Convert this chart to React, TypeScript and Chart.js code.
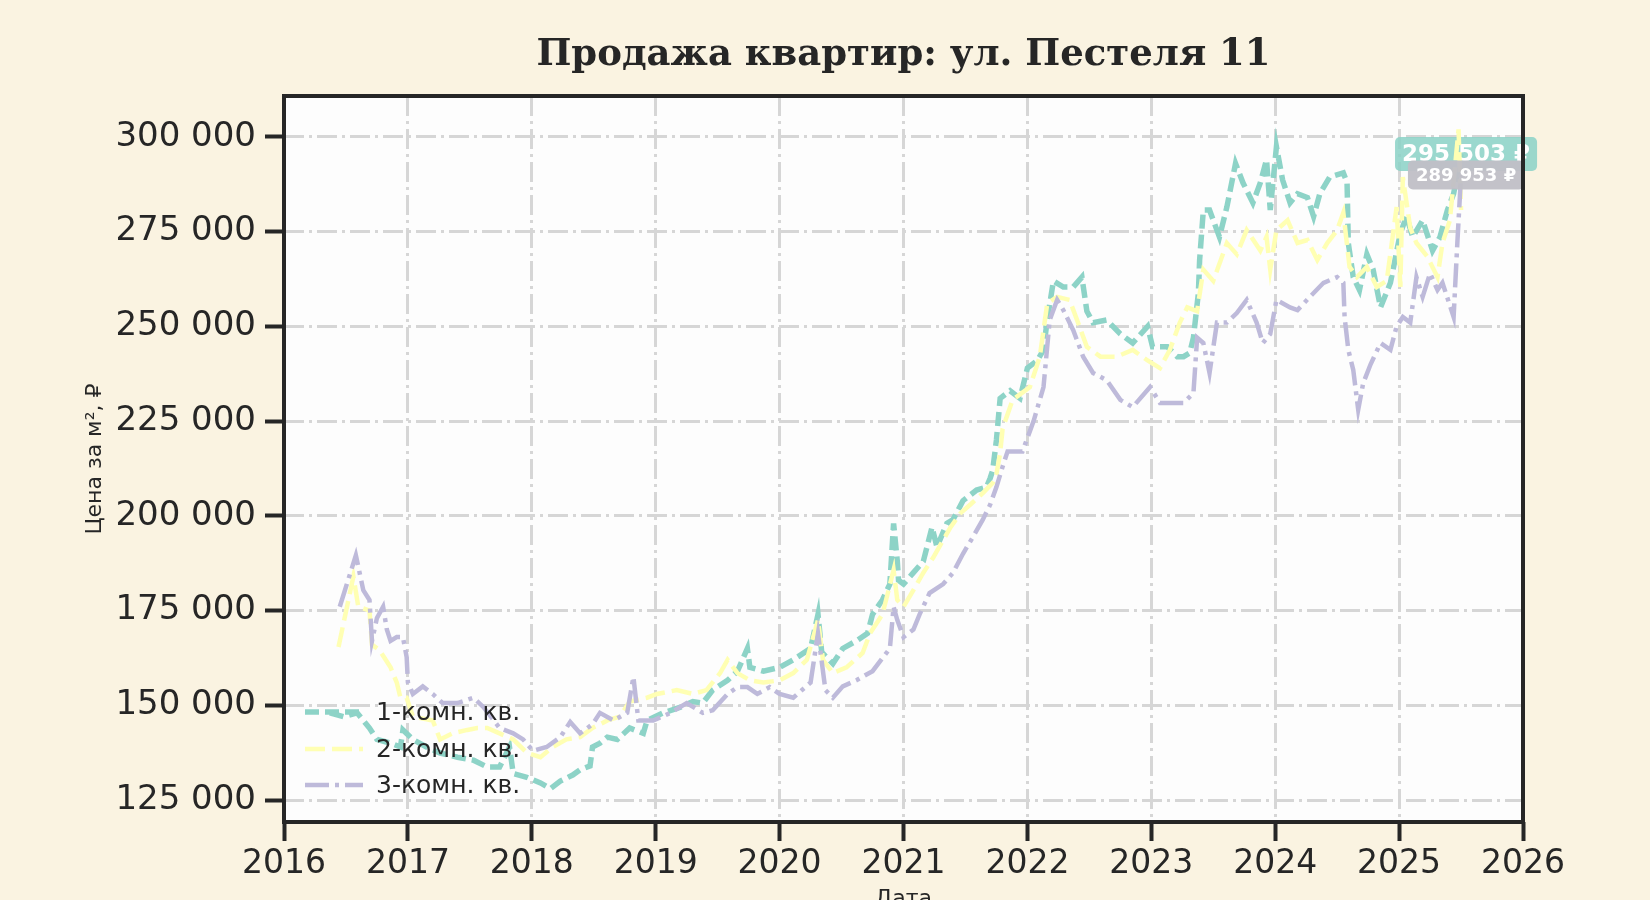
import React, { useEffect, useRef } from "react";
import { Chart, registerables } from "chart.js";

Chart.register(...registerables);

const TITLE = "Продажа квартир: ул. Пестеля 11";
const Y_LABEL = "Цена за м², ₽";
const X_LABEL = "Дата";

const X_TICKS = [2016, 2017, 2018, 2019, 2020, 2021, 2022, 2023, 2024, 2025, 2026];
const Y_TICKS = [125000, 150000, 175000, 200000, 225000, 250000, 275000, 300000];

const SERIES_NAMES = ["1-комн. кв.", "2-комн. кв.", "3-комн. кв."];
const SERIES_COLORS = ["#8dd3c7", "#ffffb3", "#bebada"];

const S1_YEARS = [
  2016.37, 2016.48, 2016.59, 2016.69, 2016.75, 2016.86, 2016.94, 2016.96, 2017.04, 2017.15,
  2017.26, 2017.40, 2017.53, 2017.64, 2017.74, 2017.82, 2017.85, 2017.96, 2018.07, 2018.15,
  2018.23, 2018.33, 2018.39, 2018.47, 2018.49, 2018.55, 2018.61, 2018.69, 2018.79, 2018.90,
  2018.93, 2019.06, 2019.20, 2019.30, 2019.38, 2019.46, 2019.58, 2019.66, 2019.74, 2019.76,
  2019.87, 2020.00, 2020.11, 2020.25, 2020.31, 2020.34, 2020.43, 2020.51, 2020.62, 2020.71,
  2020.75, 2020.83, 2020.89, 2020.92, 2020.95, 2020.96, 2021.00, 2021.08, 2021.16, 2021.23,
  2021.27, 2021.35, 2021.40, 2021.48, 2021.59, 2021.67, 2021.70, 2021.72, 2021.75, 2021.78,
  2021.86, 2021.94, 2022.00, 2022.08, 2022.13, 2022.16, 2022.21, 2022.29, 2022.37, 2022.44,
  2022.48, 2022.53, 2022.64, 2022.75, 2022.85, 2022.97, 2023.01, 2023.13, 2023.21, 2023.26,
  2023.31, 2023.34, 2023.38, 2023.39, 2023.42, 2023.47, 2023.55, 2023.61, 2023.68, 2023.74,
  2023.82, 2023.88, 2023.93, 2023.96, 2024.01, 2024.06, 2024.12, 2024.18, 2024.26, 2024.31,
  2024.36, 2024.44, 2024.55, 2024.58, 2024.59, 2024.63, 2024.68, 2024.74, 2024.79, 2024.85,
  2024.93, 2025.01, 2025.06, 2025.11, 2025.19, 2025.27, 2025.33, 2025.39, 2025.44, 2025.50,
];
const S1_VALUES = [
  148000, 147000, 148000, 144000, 141000, 140000, 139000, 143500, 141000, 139000,
  137400, 136300, 135500, 133700, 133700, 139000, 132000, 131000, 129500, 128000,
  130000, 131600, 133000, 134000, 139000, 140000, 141600, 141000, 144000, 142600,
  146000, 148000, 149500, 151000, 150600, 154000, 156600, 159000, 165000, 160000,
  159000, 160000, 162000, 165000, 174000, 164000, 161000, 165000, 167000, 169000,
  174000, 177800, 182000, 198000, 188000, 183000, 182000, 185000, 188000, 197000,
  191800, 198000, 199000, 204000, 206800, 207600, 210000, 212000, 220000, 231000,
  233000, 231000, 239000, 241000, 243800, 251700, 262000, 260400, 260400, 263000,
  254000, 251000, 251700, 248000, 245600, 250000, 244600, 244600, 242000, 242000,
  243000, 247000, 258800, 267500, 280700, 280700, 273600, 281500, 293000, 287900,
  282600, 287900, 294000, 280700, 297400, 288600, 282600, 285000, 284000, 279000,
  285000, 289400, 290500, 288000, 272000, 263000, 259600, 269000, 265000, 255000,
  261500, 274600, 279000, 273600, 278000, 270000, 273600, 280700, 285000, 295503,
];

const S2_YEARS = [
  2016.44, 2016.56, 2016.60, 2016.69, 2016.71, 2016.77, 2016.86, 2016.91, 2016.94, 2016.99,
  2017.04, 2017.20, 2017.26, 2017.36, 2017.48, 2017.56, 2017.64, 2017.74, 2017.85, 2017.96,
  2018.07, 2018.17, 2018.28, 2018.39, 2018.49, 2018.61, 2018.71, 2018.79, 2018.93, 2019.01,
  2019.17, 2019.30, 2019.41, 2019.52, 2019.58, 2019.66, 2019.76, 2019.87, 2020.00, 2020.11,
  2020.22, 2020.31, 2020.35, 2020.43, 2020.54, 2020.67, 2020.73, 2020.83, 2020.92, 2020.95,
  2021.00, 2021.08, 2021.16, 2021.24, 2021.32, 2021.38, 2021.46, 2021.54, 2021.64, 2021.72,
  2021.75, 2021.78, 2021.80, 2021.88, 2022.02, 2022.10, 2022.16, 2022.24, 2022.34, 2022.42,
  2022.48, 2022.59, 2022.72, 2022.85, 2022.97, 2023.07, 2023.15, 2023.23, 2023.29, 2023.37,
  2023.42, 2023.50, 2023.61, 2023.69, 2023.77, 2023.88, 2023.93, 2023.96, 2024.01, 2024.10,
  2024.18, 2024.26, 2024.34, 2024.42, 2024.50, 2024.55, 2024.60, 2024.66, 2024.74, 2024.82,
  2024.90, 2024.98, 2025.01, 2025.03, 2025.09, 2025.14, 2025.23, 2025.31, 2025.35, 2025.41,
  2025.48, 2025.50,
];
const S2_VALUES = [
  165400, 184000, 176000, 175000, 166000, 164600, 160000, 156000, 152000, 152000,
  147000, 146000, 141000, 142600, 143500, 144000, 144000, 142600, 141000, 137500,
  136300, 139000, 141000, 141600, 144000, 146000, 147000, 151000, 152000, 153000,
  154000, 153000, 154000, 158500, 162000, 158500, 156600, 156000, 156600, 158500,
  162000, 172500, 162000, 158500, 160000, 163800, 169000, 174000, 185700, 177800,
  176000, 180400, 185000, 189000, 193600, 197000, 200700, 203000, 206000, 208700,
  211000, 216600, 223000, 230600, 234000, 242000, 256000, 257800, 257000, 250000,
  244600, 242000, 242000, 243800, 241000, 239000, 243800, 251000, 255000, 254000,
  265000, 262000, 272000, 269000, 275400, 270000, 273600, 265000, 275400, 278000,
  272000, 272800, 267500, 272000, 275400, 280000, 265700, 263000, 265700, 260400,
  262000, 281500, 260400, 289400, 276000, 272000, 268300, 263000, 272000, 278000,
  302000, 280700,
];

const S3_YEARS = [
  2016.45, 2016.58, 2016.64, 2016.69, 2016.71, 2016.75, 2016.80, 2016.83, 2016.86, 2016.91,
  2016.96, 2016.99, 2017.00, 2017.04, 2017.12, 2017.20, 2017.28, 2017.40, 2017.53, 2017.61,
  2017.74, 2017.85, 2017.93, 2018.01, 2018.12, 2018.23, 2018.31, 2018.39, 2018.49, 2018.55,
  2018.66, 2018.77, 2018.82, 2018.86, 2018.98, 2019.12, 2019.25, 2019.38, 2019.46, 2019.58,
  2019.66, 2019.74, 2019.82, 2019.92, 2020.00, 2020.11, 2020.25, 2020.31, 2020.37, 2020.43,
  2020.51, 2020.62, 2020.75, 2020.89, 2020.92, 2020.95, 2021.00, 2021.08, 2021.13, 2021.21,
  2021.32, 2021.40, 2021.48, 2021.56, 2021.64, 2021.70, 2021.75, 2021.80, 2021.84, 2021.88,
  2021.96, 2022.05, 2022.13, 2022.18, 2022.24, 2022.29, 2022.37, 2022.45, 2022.53, 2022.64,
  2022.75, 2022.85, 2022.99, 2023.07, 2023.15, 2023.26, 2023.34, 2023.37, 2023.42, 2023.47,
  2023.53, 2023.61, 2023.69, 2023.77, 2023.85, 2023.90, 2023.96, 2024.01, 2024.12, 2024.18,
  2024.28, 2024.39, 2024.50, 2024.55, 2024.56, 2024.59, 2024.63, 2024.67, 2024.71, 2024.77,
  2024.85, 2024.93, 2024.98, 2025.03, 2025.09, 2025.14, 2025.19, 2025.25, 2025.31, 2025.35,
  2025.44, 2025.47, 2025.50,
];
const S3_VALUES = [
  176000, 189600, 180400, 177800, 167000, 173000, 176000, 170000, 167000, 168000,
  168000, 162700, 156000, 153000, 155000, 153000, 150600, 150600, 152000, 149500,
  144000, 142600, 141000, 138000, 139000, 141600, 145600, 142600, 145000, 148000,
  146000, 148000, 157500, 146000, 146000, 148000, 150600, 148000, 148700, 153000,
  154800, 154800, 153000, 154800, 153000, 152000, 156000, 169000, 154000, 152000,
  155000, 156600, 159000, 165000, 176000, 172500, 168000, 170000, 174000, 179600,
  182000, 185000, 190000, 194400, 199000, 203000, 207600, 213000, 217000, 217000,
  217000, 225000, 234000, 251700, 257000, 254300, 249000, 242000, 237700, 235800,
  230600, 228700, 234000, 229800, 229800, 229800, 232400, 247000, 245600, 237700,
  251000, 251000, 253500, 257000, 251000, 245600, 248000, 257000, 255000, 254300,
  257800, 261500, 263000, 261500, 252500, 243800, 238500, 228000, 235000, 240000,
  245600, 243800, 250000, 252500, 251000, 263000, 257800, 264000, 259600, 261500,
  252500, 272000, 289953,
];

const PAGE_BG = "#faf3e1";
const PLOT_BG = "#fdfdfd";
const INK = "#262626";
const GRID = "#d6d6d6";

function fmtSpace(v: number): string {
  return Math.round(v)
    .toString()
    .replace(/\B(?=(\d{3})+(?!\d))/g, " ");
}

const LABEL_BOXES = [
  { dataset: 0, fill: "rgba(141,211,199,0.88)", font: 23, height: 34, padX: 7 },
  { dataset: 2, fill: "rgba(192,191,198,0.95)", font: 18, height: 29, padX: 8 },
];

const DASHES = [
  [14, 6],
  [20, 7],
  [24, 6, 4, 6],
];
const WIDTHS = [5.5, 4.5, 4.5];

export default function App() {
  const canvasRef = useRef<HTMLCanvasElement | null>(null);

  useEffect(() => {
    const canvas = canvasRef.current;
    if (!canvas) return;

    const seriesYears = [S1_YEARS, S2_YEARS, S3_YEARS];
    const seriesValues = [S1_VALUES, S2_VALUES, S3_VALUES];

    const datasets = SERIES_NAMES.map((name, i) => ({
      label: name,
      data: seriesYears[i].map((x, j) => ({ x, y: seriesValues[i][j] })),
      borderColor: SERIES_COLORS[i],
      backgroundColor: SERIES_COLORS[i],
      borderWidth: WIDTHS[i],
      borderDash: DASHES[i],
      borderCapStyle: "butt" as const,
      borderJoinStyle: "miter" as const,
      pointRadius: 0,
      pointHoverRadius: 0,
      tension: 0,
      fill: false,
      order: 3 - i,
    }));

    const decor = {
      id: "decor",
      beforeDraw(chart: any) {
        const { ctx, chartArea: a } = chart;
        ctx.save();
        ctx.fillStyle = PAGE_BG;
        ctx.fillRect(0, 0, chart.width, chart.height);
        ctx.fillStyle = PLOT_BG;
        ctx.fillRect(a.left, a.top, a.right - a.left, a.bottom - a.top);
        ctx.restore();
      },
      afterDatasetDraw(chart: any, args: any) {
        const box = LABEL_BOXES.find((b) => b.dataset === args.index);
        if (!box) return;
        const meta = chart.getDatasetMeta(args.index);
        const pts = meta.data;
        const last = pts[pts.length - 1];
        const vals = seriesValues[args.index];
        const text = fmtSpace(vals[vals.length - 1]) + " ₽";
        const { ctx } = chart;
        ctx.save();
        ctx.font = `bold ${box.font}px "DejaVu Sans"`;
        const w = ctx.measureText(text).width + box.padX * 2;
        const h = box.height;
        const cx = last.x + 5;
        const cy = last.y;
        ctx.fillStyle = box.fill;
        ctx.beginPath();
        ctx.roundRect(cx - w / 2, cy - h / 2, w, h, 5);
        ctx.fill();
        ctx.fillStyle = "#ffffff";
        ctx.textAlign = "center";
        ctx.textBaseline = "middle";
        ctx.fillText(text, cx, cy + 1);
        ctx.restore();
      },
      afterDatasetsDraw(chart: any) {
        const { ctx, chartArea: a } = chart;
        ctx.save();
        // legend
        const rows = [712, 749, 785];
        SERIES_NAMES.forEach((name, i) => {
          const y = rows[i];
          ctx.strokeStyle = SERIES_COLORS[i];
          ctx.lineWidth = WIDTHS[i];
          ctx.lineCap = "butt";
          ctx.setLineDash(DASHES[i]);
          ctx.beginPath();
          ctx.moveTo(a.left + 21, y);
          ctx.lineTo(a.left + 79, y);
          ctx.stroke();
          ctx.setLineDash([]);
          ctx.fillStyle = INK;
          ctx.font = `25px "DejaVu Sans"`;
          ctx.textAlign = "left";
          ctx.textBaseline = "middle";
          ctx.fillText(name, a.left + 92, y + 1);
        });
        // frame
        ctx.strokeStyle = INK;
        ctx.lineWidth = 4;
        ctx.strokeRect(a.left, a.top, a.right - a.left, a.bottom - a.top);
        ctx.restore();
      },
      afterDraw(chart: any) {
        const { ctx, chartArea: a } = chart;
        ctx.save();
        ctx.fillStyle = INK;
        ctx.textAlign = "center";
        ctx.textBaseline = "alphabetic";
        ctx.font = `bold 37px "DejaVu Serif"`;
        ctx.fillText(TITLE, (a.left + a.right) / 2, 65);
        ctx.font = `22px "DejaVu Sans"`;
        ctx.fillText(X_LABEL, (a.left + a.right) / 2, 905);
        ctx.translate(95, (a.top + a.bottom) / 2);
        ctx.rotate(-Math.PI / 2);
        ctx.textBaseline = "middle";
        ctx.fillText(Y_LABEL, 0, 0);
        ctx.restore();
      },
    };

    const chart = new Chart(canvas, {
      type: "line",
      data: { datasets },
      options: {
        animation: false,
        responsive: false,
        devicePixelRatio: 1,
        layout: { padding: { left: 0, right: 127, top: 96, bottom: 0 } },
        plugins: {
          legend: { display: false },
          tooltip: { enabled: false },
          title: { display: false },
        },
        events: [],
        scales: {
          x: {
            type: "linear",
            min: X_TICKS[0],
            max: X_TICKS[X_TICKS.length - 1],
            afterBuildTicks: (s: any) => {
              s.ticks = X_TICKS.map((v) => ({ value: v }));
            },
            afterFit: (s: any) => {
              s.height = 78;
            },
            ticks: {
              callback: (v: any) => String(v),
              font: { family: "DejaVu Sans", size: 33 },
              color: INK,
              padding: 4,
              maxRotation: 0,
              autoSkip: false,
            },
            grid: {
              color: GRID,
              lineWidth: 3,
              tickColor: INK,
              tickWidth: 4,
              tickLength: 19,
              tickBorderDash: [],
            },
            border: { display: false, dash: [20, 5, 3, 5] },
          },
          y: {
            type: "linear",
            min: 119200,
            max: 310800,
            afterBuildTicks: (s: any) => {
              s.ticks = Y_TICKS.map((v) => ({ value: v }));
            },
            afterFit: (s: any) => {
              s.width = 284;
            },
            ticks: {
              callback: (v: any) => fmtSpace(Number(v)),
              font: { family: "DejaVu Sans", size: 34 },
              color: INK,
              padding: 9,
              autoSkip: false,
            },
            grid: {
              color: GRID,
              lineWidth: 3,
              tickColor: INK,
              tickWidth: 4,
              tickLength: 19,
              tickBorderDash: [],
            },
            border: { display: false, dash: [20, 5, 3, 5] },
          },
        },
      } as any,
      plugins: [decor as any],
    });

    return () => {
      chart.destroy();
    };
  }, []);

  return (
    <div style={{ position: "fixed", left: 0, top: 0, width: 1650, height: 900, background: PAGE_BG }}>
      <canvas
        ref={canvasRef}
        width={1650}
        height={900}
        style={{ width: 1650, height: 900, display: "block" }}
      />
    </div>
  );
}
